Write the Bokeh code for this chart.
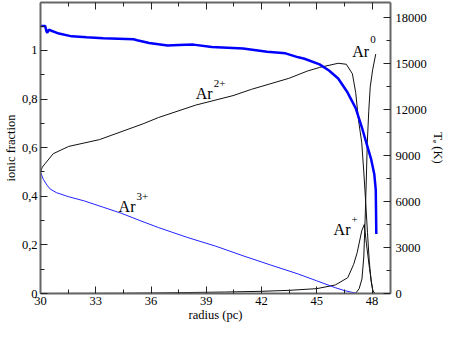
import math
from bokeh.plotting import figure
from bokeh.models import (Range1d, LinearAxis, FixedTicker, Label)
from bokeh.embed import file_html
from bokeh.resources import INLINE

# ---- data ----
ar3_r = [30.0, 30.15, 30.35, 30.52, 30.86, 31.53, 32.37, 33.4, 34.39, 35.4, 36.41, 38.0,
         39.5, 41.0, 42.5, 44.0, 45.0, 46.0, 46.5, 46.9, 47.2]
ar3_f = [0.5, 0.47, 0.446, 0.43, 0.415, 0.398, 0.381, 0.355, 0.33, 0.30, 0.271, 0.23,
         0.195, 0.155, 0.117, 0.08, 0.052, 0.024, 0.012, 0.005, 0.0]

ar2_r = [30.0, 30.1, 30.27, 30.69, 31.53, 33.2, 35.57, 36.41, 38.43, 40.45, 41.46, 43.48,
         44.49, 45.15, 46.16, 46.6, 46.93, 47.11, 47.27, 47.44, 47.55, 47.65, 47.75,
         47.85, 47.95, 48.05, 48.15]
ar2_f = [0.5, 0.52, 0.536, 0.575, 0.605, 0.633, 0.698, 0.724, 0.775, 0.814, 0.84, 0.885,
         0.915, 0.93, 0.947, 0.943, 0.904, 0.827, 0.71, 0.62, 0.5, 0.38, 0.25,
         0.13, 0.05, 0.01, 0.0]

ar1_r = [30.0, 34.0, 36.0, 38.0, 40.0, 42.0, 43.5, 45.0, 46.0, 46.68, 47.0, 47.19, 47.44,
         47.58, 47.69, 47.86, 48.03, 48.15]
ar1_f = [0.0, 0.001, 0.002, 0.004, 0.006, 0.009, 0.013, 0.02, 0.035, 0.065, 0.12, 0.168,
         0.258, 0.284, 0.207, 0.103, 0.013, 0.0]

ar0_r = [30.0, 47.1, 47.3, 47.45, 47.55, 47.62, 47.68, 47.74, 47.82, 47.9, 48.03, 48.2]
ar0_f = [0.0, 0.0, 0.02, 0.06, 0.15, 0.3, 0.45, 0.62, 0.75, 0.85, 0.92, 0.985]

te_r = [30.0, 30.25, 30.33, 30.37, 30.45, 31.0, 31.7, 32.5, 33.4, 35.05, 35.25, 35.9,
        36.9, 37.5, 38.3, 39.3, 41.0, 42.3, 43.3, 44.0, 44.33, 45.15, 45.66, 46.16,
        46.67, 47.11, 47.44, 47.69, 47.94, 48.12, 48.2, 48.23]
te_k = [17470, 17470, 17100, 17030, 17220, 16970, 16790, 16730, 16670, 16600, 16540, 16360,
        16190, 16220, 16250, 16090, 15990, 15790, 15680, 15420, 15330, 14960, 14560, 14040,
        13120, 12100, 10870, 9840, 8810, 7790, 6770, 3890]

x_ticks = [30, 33, 36, 39, 42, 45, 48]
x_minor = [31.5, 34.5, 37.5, 40.5, 43.5, 46.5]
y_ticks = [0, 0.2, 0.4, 0.6, 0.8, 1]
y_tick_labels = ["0", "0,2", "0,4", "0,6", "0,8", "1"]
y_minor = [0.1, 0.3, 0.5, 0.7, 0.9, 1.1]
t_ticks = [0, 3000, 6000, 9000, 12000, 15000, 18000]
t_minor = [1500, 4500, 7500, 10500, 13500, 16500]

FONT = "'Liberation Serif'"
AXC = "#666666"

p = figure(width=447, height=324, output_backend="svg", toolbar_location=None,
           x_range=Range1d(30, 49), y_range=Range1d(0, 1.197),
           min_border_left=2, min_border_right=2, min_border_top=2, min_border_bottom=1)
p.extra_y_ranges = {"te": Range1d(0, 19000)}
p.outline_line_color = None
p.xgrid.visible = False
p.ygrid.visible = False
p.background_fill_color = "white"
p.border_fill_color = "white"


def style(ax, ticks, minor, labels=True):
    ax.ticker = FixedTicker(ticks=ticks, minor_ticks=minor)
    ax.axis_line_color = AXC
    ax.axis_line_width = 2
    ax.major_tick_line_color = "#222222"
    ax.minor_tick_line_color = "#222222"
    ax.major_tick_in = 7
    ax.major_tick_out = 0
    ax.minor_tick_in = 4
    ax.minor_tick_out = 0
    ax.major_label_text_font = FONT
    ax.major_label_text_font_size = "12.5px" if labels else "1px"
    ax.major_label_text_color = "black"
    ax.major_label_standoff = 3
    ax.axis_label_text_font = FONT
    ax.axis_label_text_font_size = "12.5px"
    ax.axis_label_text_font_style = "normal"
    ax.axis_label_text_color = "black"
    ax.axis_label_standoff = 1
    if not labels:
        ax.major_label_overrides = {t: "" for t in ticks}
        ax.major_label_standoff = 0


style(p.xaxis[0], x_ticks, x_minor)
p.xaxis[0].axis_label = "radius (pc)"
p.xaxis[0].major_label_standoff = 3
p.xaxis[0].axis_label_standoff = 0

style(p.yaxis[0], y_ticks, y_minor)
p.yaxis[0].axis_label = "ionic fraction"
p.yaxis[0].major_label_overrides = dict(zip(y_ticks, y_tick_labels))

top = LinearAxis()
style(top, x_ticks, x_minor, labels=False)
p.add_layout(top, "above")

right = LinearAxis(y_range_name="te")
style(right, t_ticks, t_minor)
right.major_label_standoff = 5
right.axis_label = "T\u2091 (K)"
right.axis_label_standoff = 1
p.add_layout(right, "right")

# curves
p.line(ar2_r, ar2_f, line_color="#111111", line_width=1)
p.line(ar1_r, ar1_f, line_color="#111111", line_width=1)
p.line(ar0_r, ar0_f, line_color="#111111", line_width=1)
p.line(ar3_r, ar3_f, line_color="#2222ff", line_width=1)
p.line(te_r, te_k, line_color="#0000ff", line_width=2.5, y_range_name="te")

# species labels
species = [("2+", 38.43, 0.822, 18, 10),
           ("3+", 34.24, 0.357, 18, 10),
           ("+", 45.91, 0.264, 18, 10),
           ("0", 46.92, 0.996, 18, 12)]
for sup, lx, ly, dx, dy in species:
    p.add_layout(Label(x=lx, y=ly, text="Ar", text_font=FONT, text_font_size="16px",
                       text_color="black", text_baseline="alphabetic", text_align="left"))
    p.add_layout(Label(x=lx, y=ly, x_offset=dx, y_offset=dy, text=sup, text_font=FONT,
                       text_font_size="11px", text_color="black",
                       text_baseline="alphabetic", text_align="left"))

open("out.html", "w").write(file_html(p, INLINE))
